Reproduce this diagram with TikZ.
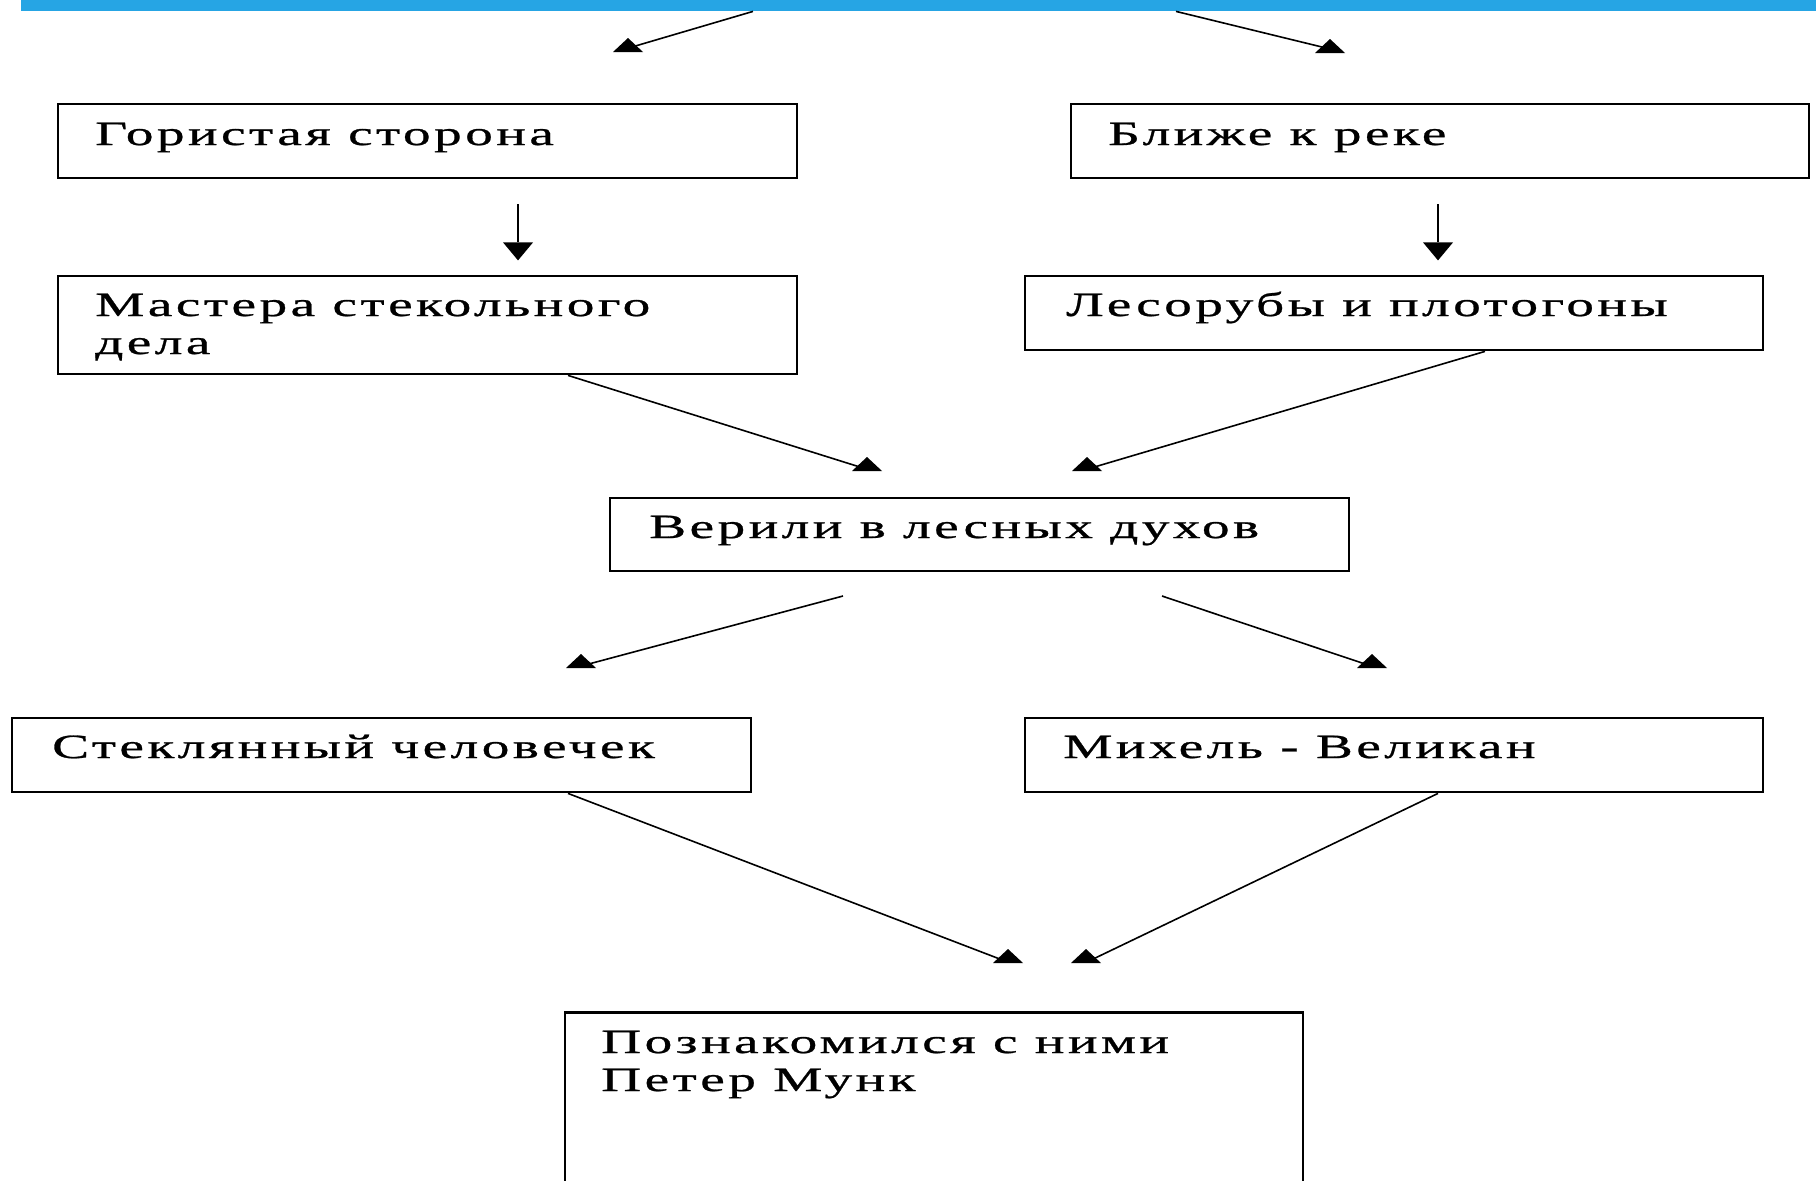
\documentclass[tikz,border=0pt]{standalone}
\usepackage{fontspec}
\newfontfamily\boxfont[FakeStretch=1.63,LetterSpace=10,FakeBold=0.8]{Liberation Serif}
\definecolor{barblue}{RGB}{38,165,228}
\begin{document}
\begin{tikzpicture}[x=1pt,y=-1pt,
  box/.style={draw=black,line width=2.8pt,inner sep=0pt},
  txt/.style={anchor=base west,inner sep=0pt,text height=25pt,text depth=7pt,font=\boxfont\fontsize{34}{38}\selectfont},
  arr/.style={line width=1.6pt},
  uhead/.pic={\fill (-15,6) -- (15,6) -- (0,-8) -- cycle;},
  dhead/.pic={\fill (-15,-9) -- (15,-9) -- (0,9) -- cycle;}]
\useasboundingbox (0,0) rectangle (1816,1181);
\fill[white] (0,0) rectangle (1816,1181);
\node[fill=barblue,inner sep=0pt,minimum width=1795pt,minimum height=11pt,anchor=north west] (bar) at (21,0) {};
% boxes
\node[box,minimum width=739pt,minimum height=74pt] (b1) at (427.5,141) {};
\node[box,minimum width=738pt,minimum height=74pt] (b2) at (1440,141) {};
\node[box,minimum width=739pt,minimum height=98pt] (b3) at (427.5,325) {};
\node[box,minimum width=738pt,minimum height=74pt] (b4) at (1394,313) {};
\node[box,minimum width=739pt,minimum height=73pt] (b5) at (979.5,534.5) {};
\node[box,minimum width=739pt,minimum height=74pt] (b6) at (381.5,755) {};
\node[box,minimum width=738pt,minimum height=74pt] (b7) at (1394,755) {};
\node[box,minimum width=738pt,minimum height=200pt,anchor=north] (b8) at (934,1011) {};
% texts
\node[txt] (t1) at (95,145) {Гористая сторона};
\node[txt] (t2) at (1108,145) {Ближе к реке};
\node[txt] (t3a) at (95,316) {Мастера стекольного};
\node[txt] (t3b) at (95,354) {дела};
\node[txt] (t4) at (1066,316) {Лесорубы и плотогоны};
\node[txt] (t5) at (649,538) {Верили в лесных духов};
\node[txt] (t6) at (52,758) {Стеклянный человечек};
\node[txt] (t7) at (1063,758) {Михель - Великан};
\node[txt] (t8a) at (601,1053) {Познакомился с ними};
\node[txt] (t8b) at (601,1091) {Петер Мунк};
% arrow end points
\coordinate (e1) at (628,46);
\coordinate (e2) at (1330,47);
\coordinate (e3) at (867,465);
\coordinate (e4) at (1087,465);
\coordinate (e5) at (581,662);
\coordinate (e6) at (1372,662);
\coordinate (e7) at (1008,957);
\coordinate (e8) at (1086,957);
\coordinate (s5a) at (843,596);
\coordinate (s5b) at (1162,596);
% connectors
\draw[arr] (bar.south -| 753,0) -- ([xshift=4pt,yshift=-1pt]e1);
\draw[arr] (bar.south -| 1176,0) -- ([xshift=-4pt,yshift=-1pt]e2);
\pic at (e1) {uhead};
\pic at (e2) {uhead};
\draw[arr] (b1.south -| 518,0) ++(0,25) coordinate (d1s) -- ++(0,38) coordinate (d1e);
\pic at ([yshift=-9pt]d1e) {dhead};
\draw[arr] (b2.south -| 1438,0) ++(0,25) coordinate (d2s) -- ++(0,38) coordinate (d2e);
\pic at ([yshift=-9pt]d2e) {dhead};
\draw[arr] (b3.south -| 568,0) -- ([xshift=-4pt,yshift=-3pt]e3);
\pic at (e3) {uhead};
\draw[arr] (b4.south -| 1485,0) -- ([xshift=4pt,yshift=-3pt]e4);
\pic at (e4) {uhead};
\draw[arr] (s5a) -- ([xshift=4pt,yshift=-3pt]e5);
\pic at (e5) {uhead};
\draw[arr] (s5b) -- ([xshift=-4pt,yshift=-3pt]e6);
\pic at (e6) {uhead};
\draw[arr] (b6.south -| 568,0) -- ([xshift=-3pt,yshift=-4pt]e7);
\pic at (e7) {uhead};
\draw[arr] (b7.south -| 1438,0) -- ([xshift=3pt,yshift=-4pt]e8);
\pic at (e8) {uhead};
\end{tikzpicture}
\end{document}
